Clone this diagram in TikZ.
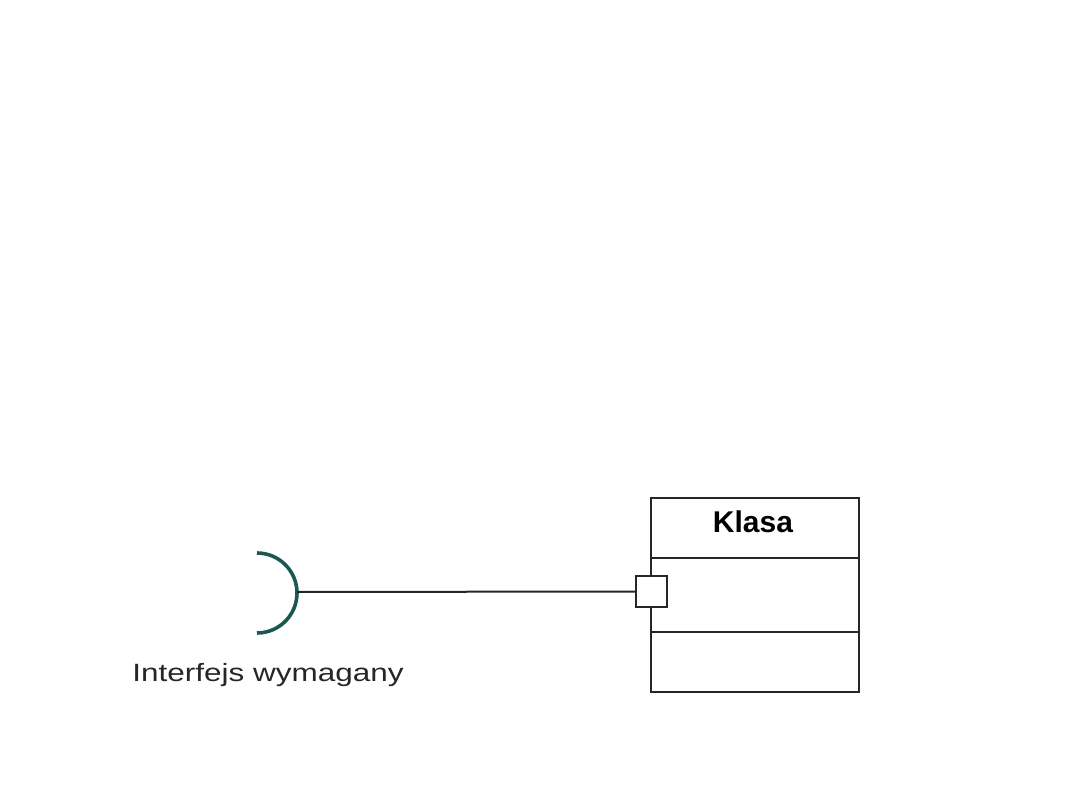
\documentclass[tikz,border=0pt]{standalone}
\usepackage{fontspec}
\setmainfont{Liberation Sans}
\begin{document}
\begin{tikzpicture}[x=1pt,y=-1pt,
  umlline/.style={draw=black!85,line width=2pt},
  reqiface/.style={draw={rgb,255:red,28;green,88;blue,82},line width=3.6pt},
  portbox/.style={draw=black!85,line width=2pt,fill=white,minimum width=31pt,minimum height=31pt,inner sep=0pt},
  lbl/.style={font=\fontsize{25}{28}\selectfont,text=black!85}]
\useasboundingbox (0,0) rectangle (1080,810);
% class box
\coordinate (ctl) at (651,498);
\coordinate (cbr) at (859,692);
\draw[umlline] (ctl) rectangle (cbr);
\draw[umlline] (651,558) -- (859,558);
\draw[umlline] (651,632) -- (859,632);
\node[anchor=base,font=\bfseries\fontsize{30}{34}\selectfont] (klasa) at (753,532) {Klasa};
% port
\node[portbox] (port) at (651.5,591.5) {};
% required interface socket
\draw[reqiface] (257,553) arc[start angle=-90,end angle=90,radius=40];
\coordinate (sock) at (297,592);
\draw[umlline] (sock) -- (port.west);
\node[lbl,anchor=base,xscale=1.26] (label) at (268,681) {Interfejs wymagany};
\end{tikzpicture}
\end{document}
